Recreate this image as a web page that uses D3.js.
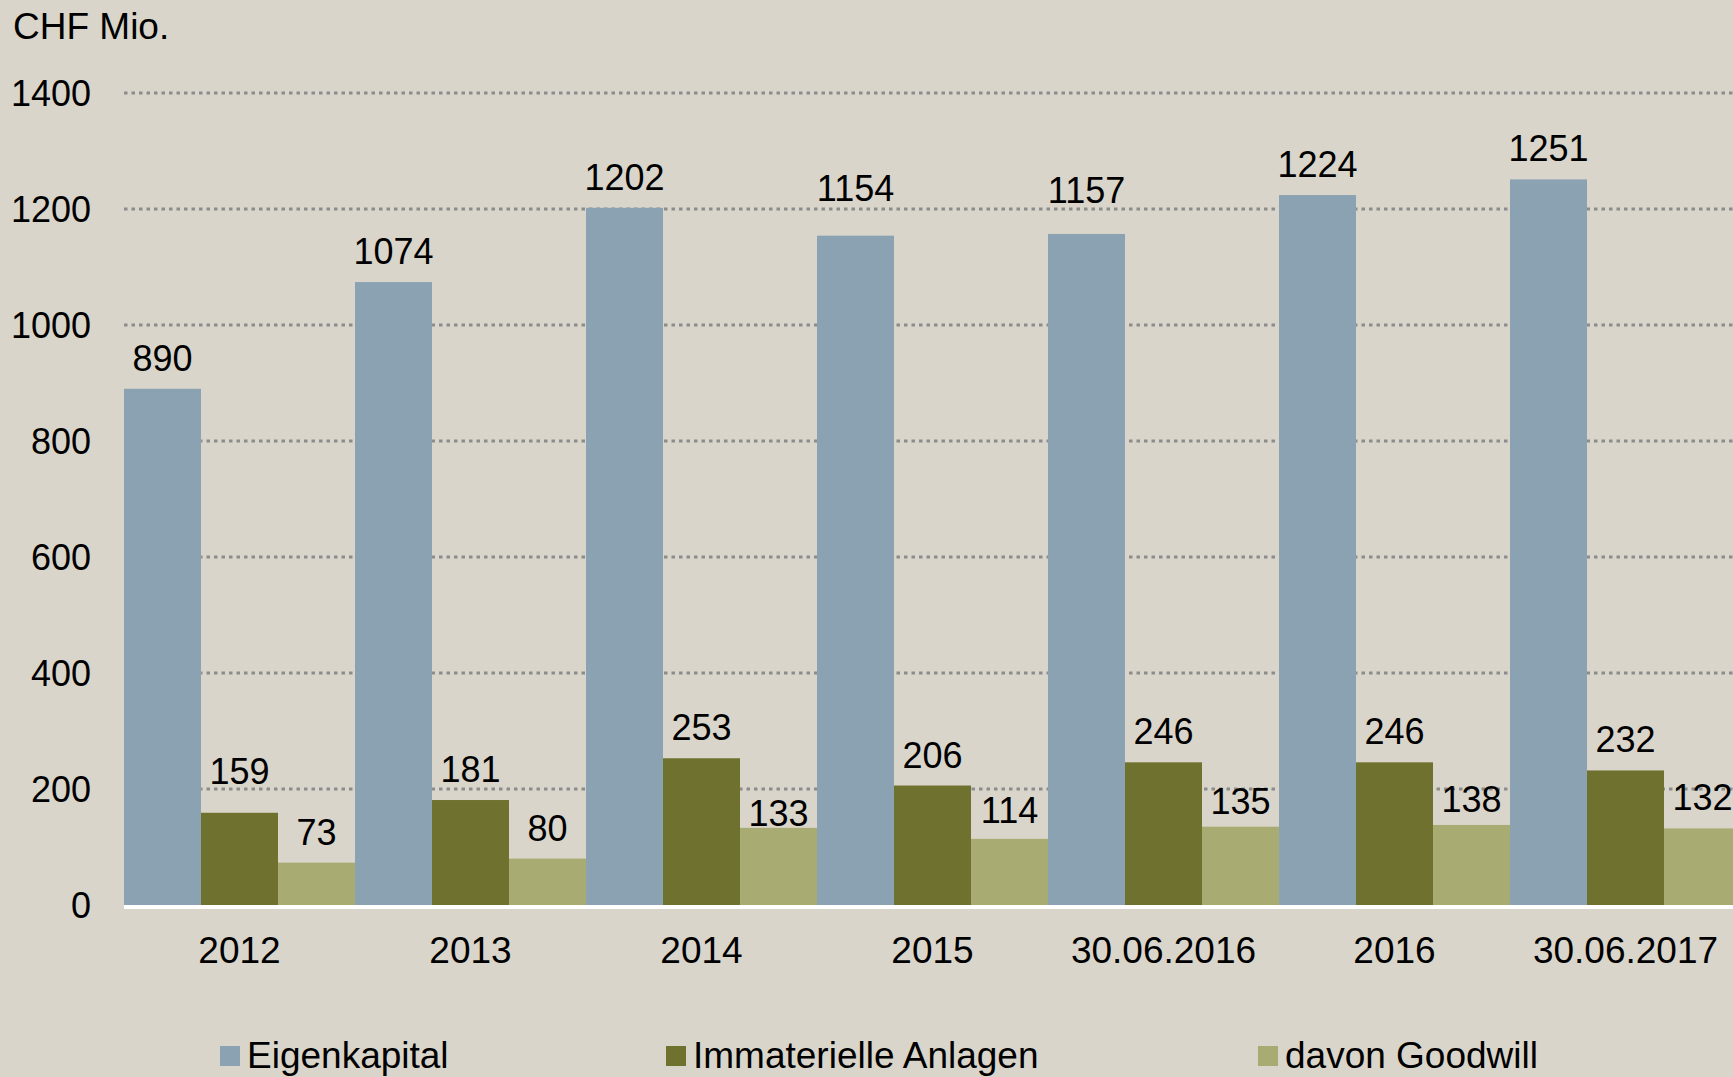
<!DOCTYPE html>
<html>
<head>
<meta charset="utf-8">
<script src="https://cdn.jsdelivr.net/npm/d3@7"></script>
<style>
  html, body { margin: 0; padding: 0; background: #d9d5ca; }
  svg text { font-family: "Liberation Sans", Arial, sans-serif; fill: #000; }
</style>
</head>
<body>
<svg id="chart"></svg>
<script>
// data
const categories = ['2012', '2013', '2014', '2015', '30.06.2016', '2016', '30.06.2017'];
const seriesNames = ['Eigenkapital', 'Immaterielle Anlagen', 'davon Goodwill'];
const eigenkapital = [890, 1074, 1202, 1154, 1157, 1224, 1251];
const immaterielle = [159, 181, 253, 206, 246, 246, 232];
const goodwill = [73, 80, 133, 114, 135, 138, 132];
const yTicks = [0, 200, 400, 600, 800, 1000, 1200, 1400];

// hand-moved data labels in the original (px, + = down)
const labelNudge = [
  [0, 0, 0, -17, -13, 0, 0],
  [-11, 0, 0, 0, 0, 0, 0],
  [0, 0, 16, 2, 5, 5, 0]
];

const colors = ['#8ba2b2', '#6e722e', '#a8ac72'];
const width = 1733, height = 1077;
const left = 124, base = 905;

const svg = d3.select('#chart')
  .attr('width', width)
  .attr('height', height);

svg.append('rect')
  .attr('width', width)
  .attr('height', height)
  .attr('fill', '#d9d5ca');

const x = d3.scaleBand()
  .domain(categories)
  .range([left, left + 231 * categories.length])
  .padding(0);

const xInner = d3.scaleBand()
  .domain(seriesNames)
  .range([0, x.bandwidth()])
  .padding(0);

const y = d3.scaleLinear()
  .domain([0, 1400])
  .range([base, 93]);

const values = [eigenkapital, immaterielle, goodwill];
const rows = [];
categories.forEach((c, i) => {
  seriesNames.forEach((s, j) => {
    rows.push({ cat: c, series: s, idx: j, value: values[j][i], nudge: labelNudge[j][i] });
  });
});

// gridlines
svg.append('g')
  .selectAll('line')
  .data(yTicks.filter(d => d > 0))
  .enter()
  .append('line')
  .attr('x1', left)
  .attr('x2', width)
  .attr('y1', d => y(d))
  .attr('y2', d => y(d))
  .attr('stroke', '#8c8c8c')
  .attr('stroke-width', 3)
  .attr('stroke-dasharray', '3.5,4');

// y labels
svg.append('g')
  .selectAll('text')
  .data(yTicks)
  .enter()
  .append('text')
  .attr('x', 91)
  .attr('y', d => y(d) + 13)
  .attr('text-anchor', 'end')
  .style('font-size', '36px')
  .text(d => d);

svg.append('text')
  .attr('x', 13)
  .attr('y', 39)
  .style('font-size', '37px')
  .text('CHF Mio.');

// bars
svg.append('g')
  .selectAll('rect')
  .data(rows)
  .enter()
  .append('rect')
  .attr('x', d => x(d.cat) + xInner(d.series))
  .attr('y', d => y(d.value))
  .attr('width', xInner.bandwidth())
  .attr('height', d => y(0) - y(d.value))
  .attr('fill', d => colors[d.idx]);

// value labels
svg.append('g')
  .selectAll('text')
  .data(rows)
  .enter()
  .append('text')
  .attr('x', d => x(d.cat) + xInner(d.series) + xInner.bandwidth() / 2)
  .attr('y', d => y(d.value) - 18 + d.nudge)
  .attr('text-anchor', 'middle')
  .style('font-size', '36px')
  .text(d => d.value);

// axis line
svg.append('rect')
  .attr('x', left)
  .attr('y', base)
  .attr('width', width - left)
  .attr('height', 4)
  .attr('fill', '#ffffff');

// x labels
svg.append('g')
  .selectAll('text')
  .data(categories)
  .enter()
  .append('text')
  .attr('x', d => x(d) + x.bandwidth() / 2)
  .attr('y', 963)
  .attr('text-anchor', 'middle')
  .style('font-size', '37px')
  .text(d => d);

// legend
const legendX = [220, 666, 1258];
const legend = svg.append('g')
  .selectAll('g')
  .data(seriesNames)
  .enter()
  .append('g')
  .attr('transform', (d, i) => `translate(${legendX[i]},1046)`);

legend.append('rect')
  .attr('width', 20)
  .attr('height', 20)
  .attr('fill', (d, i) => colors[i]);

legend.append('text')
  .attr('x', 27)
  .attr('y', 22)
  .style('font-size', '37px')
  .text(d => d);
</script>
</body>
</html>
